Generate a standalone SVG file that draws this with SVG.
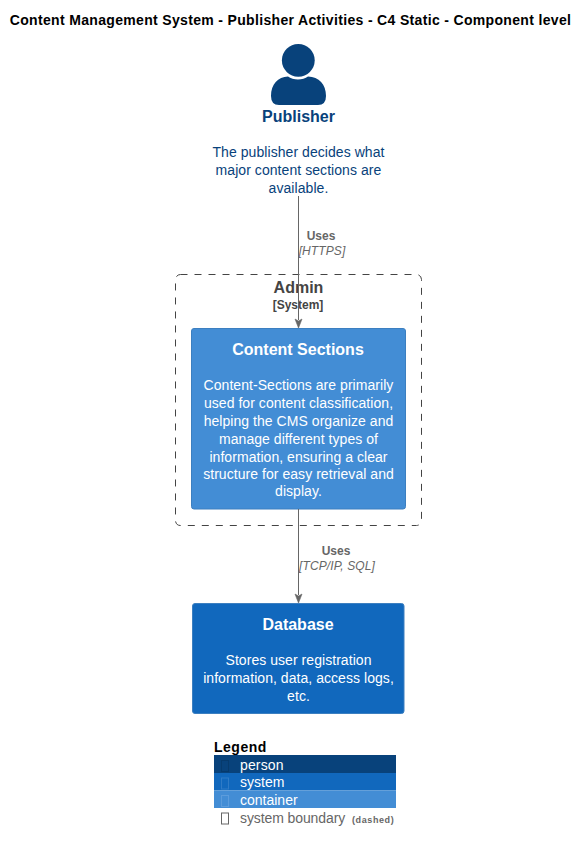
<svg xmlns="http://www.w3.org/2000/svg" width="588" height="851" viewBox="0 0 588 851">
<style>
text{font-family:"Liberation Sans",Arial,sans-serif;text-anchor:middle}
.t{font-size:14px;font-weight:bold;fill:#000;letter-spacing:.335px}
.pd{font-size:14px;fill:#08427B;letter-spacing:.06px}
.nt{font-size:16px;font-weight:bold;fill:#fff}
.nd{font-size:14px;fill:#fff;letter-spacing:.05px}
.rl{font-size:12px;font-weight:bold;fill:#666}
.rt{font-size:12px;font-style:italic;fill:#666;letter-spacing:.1px}
.conn{stroke:#666;stroke-width:1;fill:none}
.ah{fill:#666;stroke:#666;stroke-width:.6}
.lg{font-size:14px;text-anchor:start}
</style>
<rect width="588" height="851" fill="#fff"/>
<text class="t" x="290.500" y="24.500">Content Management System - Publisher Activities - C4 Static - Component level</text>
<g id="boundary-admin">
<rect x="175.500" y="274.500" width="246" height="251" rx="5" fill="none" stroke="#444" stroke-dasharray="7,7"/>
<text x="298.500" y="293" font-size="16" font-weight="bold" fill="#444">Admin</text>
<text x="298" y="309" font-size="12" font-weight="bold" fill="#444">[System]</text>
</g>
<g id="publisher">
<circle cx="298.300" cy="60.300" r="16.400" fill="#08427B"/>
<path d="M279 105Q271 105 271 96C271 84 278 77 288 76.500C293 80.500 303 80.500 308 76.500C319 77 326 84 326 96Q326 105 318 105Z" fill="#08427B"/>
<text x="298.500" y="122" font-size="16" font-weight="bold" fill="#08427B">Publisher</text>
<text class="pd" x="298.500" y="157">The publisher decides what</text>
<text class="pd" x="298.500" y="175">major content sections are</text>
<text class="pd" x="298.500" y="193">available.</text>
</g>
<g id="content-sections">
<rect x="191.500" y="328.500" width="214" height="180.500" rx="2.500" fill="#438DD5" stroke="#3C7FC0"/>
<text class="nt" x="298" y="355">Content Sections</text>
<text class="nd" x="298.500" y="390">Content-Sections are primarily</text>
<text class="nd" x="298.500" y="408">used for content classification,</text>
<text class="nd" x="298.500" y="426">helping the CMS organize and</text>
<text class="nd" x="298.500" y="444">manage different types of</text>
<text class="nd" x="298.500" y="462">information, ensuring a clear</text>
<text class="nd" x="298.500" y="479">structure for easy retrieval and</text>
<text class="nd" x="298.500" y="496">display.</text>
</g>
<g id="database">
<rect x="192.500" y="603.500" width="211.500" height="110" rx="2.500" fill="#1168BD" stroke="#3C7FC0"/>
<text class="nt" x="298" y="630">Database</text>
<text class="nd" x="298.500" y="665">Stores user registration</text>
<text class="nd" x="298.500" y="683">information, data, access logs,</text>
<text class="nd" x="298.500" y="701">etc.</text>
</g>
<g id="connectors">
<path class="conn" d="M298.500 196V320"/>
<path class="ah" d="M298.500 328L295 319L298.500 321L302 319Z"/>
<text class="rl" x="321" y="240">Uses</text>
<text class="rt" x="322" y="255">[HTTPS]</text>
<path class="conn" d="M298.500 509V595"/>
<path class="ah" d="M298.500 603L295 594L298.500 596L302 594Z"/>
<text class="rl" x="336" y="555">Uses</text>
<text class="rt" x="337" y="570">[TCP/IP, SQL]</text>
</g>
<g id="legend">
<text x="214" y="752" font-size="14" font-weight="bold" fill="#000" style="text-anchor:start;letter-spacing:.5px">Legend</text>
<rect x="214" y="755" width="182" height="18" fill="#08427B"/>
<rect x="214" y="773" width="182" height="17.500" fill="#1168BD"/>
<rect x="214" y="790.500" width="182" height="17.500" fill="#438DD5"/>
<g fill="none" stroke-width="1">
<rect x="221.500" y="760.500" width="7" height="11" stroke="#063A6C"/>
<rect x="221.500" y="778" width="7" height="11" stroke="#2F7BC6"/>
<rect x="221.500" y="795.500" width="7" height="11" stroke="#5C9CDC"/>
<rect x="221.500" y="813" width="7" height="11" stroke="#666"/>
</g>
<text class="lg" x="240" y="770" fill="#fff" letter-spacing=".15">person</text>
<text class="lg" x="240" y="787" fill="#fff">system</text>
<text class="lg" x="240" y="805" fill="#fff">container</text>
<text class="lg" x="240" y="823" fill="#666" letter-spacing="-.1">system boundary <tspan x="352" font-size="9" font-weight="bold" letter-spacing=".6">(dashed)</tspan></text>
</g>
</svg>
